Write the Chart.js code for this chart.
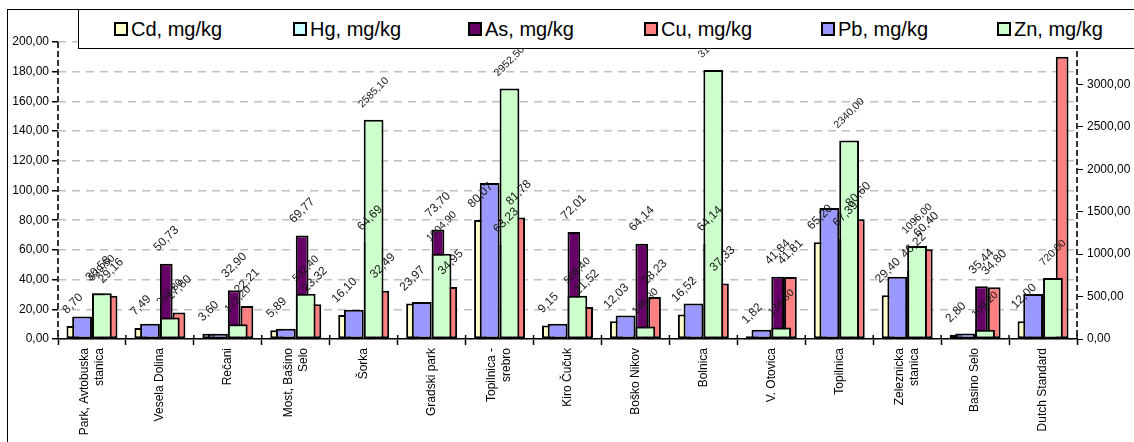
<!DOCTYPE html>
<html lang="mk">
<head>
  <meta charset="UTF-8" />
  <title>Metals in soil – mg/kg</title>
  <script src="https://cdn.jsdelivr.net/npm/chart.js"></script>
  <style>
    body {
      margin: 0;
      background: #fff;
      font-family: 'Liberation Sans', Arial, sans-serif;
    }
    .wrap {
      position: relative;
      width: 1134px;
      height: 442px;
      overflow: hidden;
    }
    .frame {
      position: absolute;
      left: 7px;
      top: 9px;
      width: 1200px;
      height: 500px;
      border-left: 1.5px solid #000;
      border-top: 1.5px solid #000;
    }
    .legend {
      position: absolute;
      left: 78px;
      top: 9px;
      width: 1100px;
      height: 38px;
      border: 1.5px solid #000;
      background: #fff;
    }
    .legend .item {
      position: absolute;
      top: 7px;
      font-size: 20px;
      line-height: 24px;
      white-space: nowrap;
      color: #000;
    }
    .legend .box {
      display: inline-block;
      width: 10px;
      height: 10px;
      border: 2px solid #000;
      margin-right: 3px;
    }
    canvas { position: absolute; left: 0; top: 0; }
  </style>
</head>
<body>
  <div class="wrap">
    <div class="frame"></div>
    <canvas id="metalsChart" width="1134" height="442"></canvas>
    <div class="legend" id="legend"></div>
  </div>

  <script>
    const sites = [
      ['Park, Avtobuska', 'stanica'], 'Vesela Dolina', 'Rečani', ['Most, Bašino', 'Selo'],
      'Šorka', 'Gradski park', ['Topilnica -', 'srebro'], 'Kiro Čučuk', 'Boško Nikov',
      'Bolnica', 'V. Otovica', 'Topilnica', ['Zeleznicka', 'stanica'], 'Basino Selo', 'Dutch Standard'
    ];

    // left axis (0-200)
    const cdValues = [8.70, 7.49, 3.60, 5.89, 16.10, 23.97, 80.07, 9.15, 12.03, 16.52, 1.82, 65.20, 29.40, 2.80, 12.00];
    const hgValues = [0.4, 0.3, 0.2, 0.3, 0.5, 0.6, 1.2, 0.3, 0.4, 0.5, 0.2, 1.0, 0.6, 0.2, 10.0];
    const asValues = [30.58, 50.73, 32.90, 69.77, 64.69, 73.70, 63.23, 72.01, 64.14, 64.14, 41.84, 67.39, 46.22, 35.44, null];
    const cuValues = [29.16, 17.80, 22.21, 23.32, 32.49, 34.95, 81.78, 21.52, 28.23, 37.33, 41.81, 80.60, 60.40, 34.80, 190.00];
    // right axis (0-3500)
    const pbValues = [266, 180, 62, 121, 345, 436, 1837, 180, 278, 419, 110, 1543, 734, 66, 530];
    const znValues = [539.50, 253.80, 173.20, 532.40, 2585.10, 1004.90, 2952.50, 508.40, 146.30, 3170.00, 134.30, 2340.00, 1096.00, 109.20, 720.00];

    const leftTicks = { min: 0, max: 200, step: 20 };
    const rightTicks = { min: 0, max: 3500, step: 500 };

    const fmt = v => Number(v).toFixed(2).replace('.', ',');
    const fontFamily = "'Liberation Sans', Arial, sans-serif";

    Chart.defaults.font.family = fontFamily;
    Chart.defaults.font.size = 12;
    Chart.defaults.color = '#000';

    // Excel puts the 4 left-axis bars in one cluster (75% of a category) and the
    // 2 right-axis bars in a second cluster (58%) drawn over it. Chart.js has one
    // grouping per index axis, so all 6 datasets share 6 slots (taken in `order`)
    // and each slot's category/bar percentage is solved so the bar lands where
    // the Excel cluster would put it.
    const SLOTS = 6;
    const leftBar = 0.75 / 4;
    const rightBar = 0.583 / 2;
    function place(slot, center, width) {
      const f = (slot + 0.5) / SLOTS - 0.5;
      const cat = center / f;
      return { cat: cat, bar: width * SLOTS / cat };
    }

    const series = [
      { label: 'Cd, mg/kg', data: cdValues, color: '#FFFFCC', axis: 'y',  order: 1, pos: place(1, -1.5 * leftBar, leftBar),  labels: true },
      { label: 'Hg, mg/kg', data: hgValues, color: '#CCFFFF', axis: 'y',  order: 2, pos: place(2, -0.5 * leftBar, leftBar),  labels: false },
      { label: 'As, mg/kg', data: asValues, color: '#660066', axis: 'y',  order: 4, pos: place(4, 0.5 * leftBar, leftBar),   labels: true },
      { label: 'Cu, mg/kg', data: cuValues, color: '#FF8080', axis: 'y',  order: 5, pos: place(5, 1.5 * leftBar, leftBar),   labels: true },
      { label: 'Pb, mg/kg', data: pbValues, color: '#9999FF', axis: 'y1', order: 0, pos: place(0, -0.5 * rightBar, rightBar), labels: false },
      { label: 'Zn, mg/kg', data: znValues, color: '#CCFFCC', axis: 'y1', order: 3, pos: place(3, 0.5 * rightBar, rightBar),  labels: true }
    ];

    // legend as html, laid over the top of the plot like the original
    const legendX = [35, 214, 389, 565, 742, 918];
    const legendEl = document.getElementById('legend');
    series.forEach((s, i) => {
      const item = document.createElement('div');
      item.className = 'item';
      item.style.left = legendX[i] + 'px';
      item.innerHTML = `<span class="box" style="background:${s.color}"></span>${s.label}`;
      legendEl.appendChild(item);
    });

    const datasets = series.map(s => ({
      label: s.label,
      data: s.data,
      backgroundColor: s.color,
      borderColor: '#000',
      borderWidth: 2,
      borderSkipped: false,
      yAxisID: s.axis,
      order: s.order,
      categoryPercentage: s.pos.cat,
      barPercentage: s.pos.bar
    }));

    // rotated value labels above the bars
    const valueLabels = {
      id: 'valueLabels',
      afterDatasetsDraw(chart) {
        const ctx = chart.ctx;
        series.forEach((s, i) => {
          if (!s.labels) return;
          const size = s.axis === 'y1' ? 10.5 : 12;
          const meta = chart.getDatasetMeta(i);
          ctx.save();
          ctx.font = size + 'px ' + fontFamily;
          ctx.fillStyle = '#1a1a1a';
          ctx.textAlign = 'center';
          ctx.textBaseline = 'middle';
          meta.data.forEach((bar, j) => {
            const v = s.data[j];
            if (v == null) return;
            const text = fmt(v);
            const w = ctx.measureText(text).width;
            const d = (w + size) * 0.7071 / 2 + 10;
            ctx.save();
            ctx.translate(bar.x, bar.y - d);
            ctx.rotate(-Math.PI / 4);
            ctx.fillText(text, 0, 0);
            ctx.restore();
          });
          ctx.restore();
        });
      }
    };

    // vertical category names, several lines centred on the tick
    const siteLabels = {
      id: 'siteLabels',
      afterDraw(chart) {
        const { ctx, scales: { x } } = chart;
        const lineH = 15;
        ctx.save();
        ctx.font = '12px ' + fontFamily;
        ctx.fillStyle = '#000';
        ctx.textAlign = 'right';
        ctx.textBaseline = 'middle';
        sites.forEach((name, i) => {
          const lines = Array.isArray(name) ? name : [name];
          ctx.save();
          ctx.translate(x.getPixelForTick(i), x.top + 9);
          ctx.rotate(-Math.PI / 2);
          lines.forEach((line, k) => {
            ctx.fillText(line, 0, (k - (lines.length - 1) / 2) * lineH);
          });
          ctx.restore();
        });
        // small tick marks poking up into the plot, like Excel's cross ticks
        ctx.strokeStyle = '#000';
        ctx.lineWidth = 1.5;
        for (let i = 0; i <= sites.length; i++) {
          const px = x.left + (x.right - x.left) * i / sites.length;
          ctx.beginPath();
          ctx.moveTo(px, x.top);
          ctx.lineTo(px, x.top - 4);
          ctx.stroke();
        }
        ctx.restore();
      }
    };

    // dashed value axes
    const axisLines = {
      id: 'axisLines',
      beforeDatasetsDraw(chart) {
        const { ctx, chartArea: a } = chart;
        ctx.save();
        ctx.strokeStyle = '#333';
        ctx.lineWidth = 2;
        ctx.setLineDash([6, 3]);
        [a.left, a.right].forEach(x => {
          ctx.beginPath();
          ctx.moveTo(x, a.top);
          ctx.lineTo(x, a.bottom);
          ctx.stroke();
        });
        ctx.restore();
      }
    };

    new Chart(document.getElementById('metalsChart'), {
      type: 'bar',
      data: { labels: sites, datasets: datasets },
      plugins: [axisLines, valueLabels, siteLabels],
      options: {
        responsive: false,
        animation: false,
        layout: { padding: { top: 42, left: 0, right: 0, bottom: 0 } },
        plugins: {
          legend: { display: false },
          tooltip: { enabled: false }
        },
        scales: {
          x: {
            position: 'bottom',
            offset: true,
            grid: {
              drawOnChartArea: false,
              offset: true,
              tickLength: 6,
              tickColor: '#000',
              tickWidth: 1.5
            },
            border: { display: true, color: '#000', width: 1.5 },
            ticks: { display: false, autoSkip: false },
            afterFit(s) { s.height = 103; }
          },
          y: {
            position: 'left',
            stacked: false,
            min: leftTicks.min,
            max: leftTicks.max,
            ticks: {
              stepSize: leftTicks.step,
              callback: v => fmt(v),
              padding: 3,
              color: '#000'
            },
            grid: {
              color: '#c0c0c0',
              lineWidth: 1.5,
              tickColor: '#000',
              tickLength: 6
            },
            border: { display: false, dash: [8, 6] },
            afterFit(s) { s.width = 58; }
          },
          y1: {
            position: 'right',
            stacked: false,
            min: rightTicks.min,
            max: rightTicks.max,
            ticks: {
              stepSize: rightTicks.step,
              callback: v => fmt(v),
              padding: 4,
              color: '#000'
            },
            grid: {
              drawOnChartArea: false,
              tickColor: '#000',
              tickLength: 6
            },
            border: { display: false },
            afterFit(s) { s.width = 57; }
          }
        }
      }
    });
  </script>
</body>
</html>
